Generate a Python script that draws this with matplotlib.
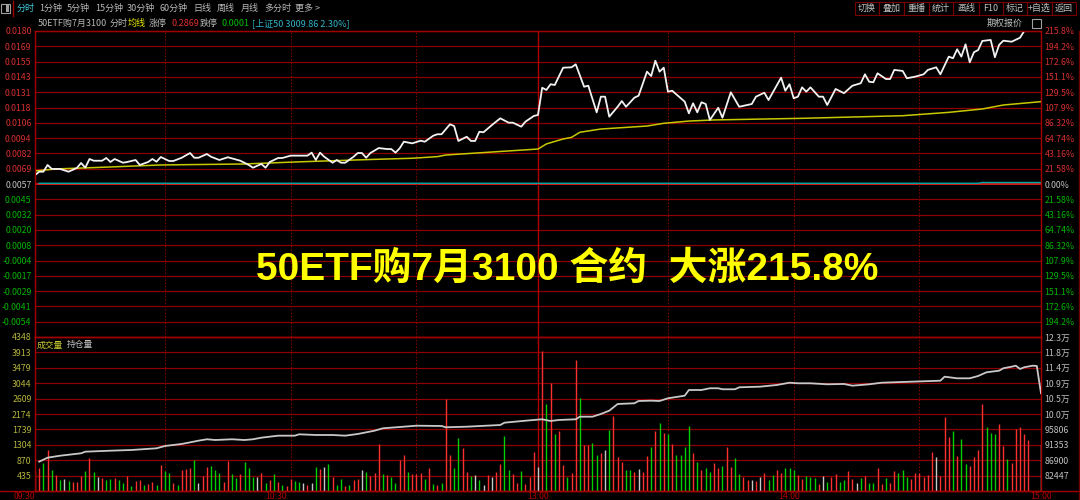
import matplotlib
matplotlib.use("Agg")
import matplotlib.pyplot as plt
from matplotlib.patches import Rectangle
from matplotlib.lines import Line2D

plt.rcParams['font.family'] = ['Noto Sans CJK SC', 'DejaVu Sans']

# ---------------- data ----------------
contract = "50ETF购7月3100"
limit_up = "0.2869"
limit_down = "0.0001"
index_info = "[上证50 3009.86 2.30%]"
headline = "50ETF购7月3100 合约  大涨215.8%"

prev_close = 0.0057
price_high = 0.0180

price_left_labels = ["-0.0054", "-0.0041", "-0.0029", "-0.0017", "-0.0004", "0.0008",
                     "0.0020", "0.0032", "0.0045", "0.0057", "0.0069", "0.0082", "0.0094",
                     "0.0106", "0.0118", "0.0131", "0.0143", "0.0155", "0.0169", "0.0180"]
price_right_labels = ["194.2%", "172.6%", "151.1%", "129.5%", "107.9%", "86.32%", "64.74%",
                      "43.16%", "21.58%", "0.00%", "21.58%", "43.16%", "64.74%", "86.32%",
                      "107.9%", "129.5%", "151.1%", "172.6%", "194.2%", "215.8%"]

vol_max = 4348
vol_labels = ["435", "870", "1304", "1739", "2174", "2609", "3044", "3479", "3913", "4348"]
oi_axis_min = 77994
oi_axis_max = 122524
oi_labels = ["82447", "86900", "91353", "95806", "10.0万", "10.5万", "10.9万", "11.4万",
             "11.8万", "12.3万"]

time_labels = ["09:30", "10:30", "13:00", "14:00", "15:00"]
time_label_minutes = [0, 60, 120, 180, 240]

# (minute since 09:30, price)
price_points = [
    (0, 0.00642), (1, 0.00669), (2, 0.00669), (3, 0.00723), (4, 0.00691), (6, 0.00691),
    (8, 0.00669), (10, 0.00699), (11, 0.00739), (12, 0.00701), (13, 0.00771), (14, 0.00757),
    (16, 0.00757), (17, 0.00779), (18, 0.00747), (19, 0.00771), (21, 0.00741), (22, 0.00747),
    (24, 0.00763), (25, 0.00723), (27, 0.00747), (28, 0.00771), (29, 0.00749), (30, 0.00787),
    (32, 0.00755), (33, 0.00755), (35, 0.00781), (37, 0.00819), (38, 0.00781), (39, 0.00781),
    (41, 0.00811), (42, 0.00789), (44, 0.00763), (46, 0.00785), (49, 0.00757), (51, 0.00723),
    (52, 0.00701), (54, 0.00731), (55, 0.00701), (56, 0.00747), (58, 0.00779), (59, 0.00779),
    (61, 0.00798), (63, 0.00798), (65, 0.00798), (66, 0.00822), (67, 0.00763), (68, 0.00822),
    (69, 0.00789), (71, 0.00741), (72, 0.00763), (73, 0.00741), (74, 0.00741), (76, 0.00789),
    (77, 0.00819), (78, 0.00819), (79, 0.00781), (80, 0.00819), (82, 0.00859), (84, 0.00851),
    (85, 0.00851), (86, 0.00822), (87, 0.00857), (88, 0.00910), (90, 0.00897), (92, 0.00918),
    (93, 0.00910), (95, 0.00958), (96, 0.00970), (97, 0.00970), (99, 0.01050), (100, 0.01036),
    (101, 0.00916), (103, 0.00950), (104, 0.00916), (105, 0.00916), (106, 0.00990),
    (107, 0.00986), (109, 0.01044), (111, 0.01098), (113, 0.01063), (114, 0.01063),
    (116, 0.01031), (117, 0.01071), (119, 0.01117), (120, 0.01125),
    (121, 0.01344), (122, 0.01326), (123, 0.01372), (124, 0.01366), (126, 0.01505),
    (128, 0.01508), (129, 0.01532), (131, 0.01352), (132, 0.01360), (134, 0.01146),
    (135, 0.01272), (136, 0.01272), (137, 0.01111), (139, 0.01191), (140, 0.01237),
    (141, 0.01191), (143, 0.01264), (144, 0.01280), (146, 0.01473), (147, 0.01438),
    (148, 0.01561), (149, 0.01473), (150, 0.01505), (151, 0.01312), (152, 0.01320),
    (155, 0.01232), (156, 0.01138), (157, 0.01219), (158, 0.01146), (159, 0.01227),
    (160, 0.01213), (161, 0.01085), (163, 0.01183), (164, 0.01103), (166, 0.01307),
    (168, 0.01191), (171, 0.01213), (172, 0.01272), (174, 0.01304), (175, 0.01245),
    (178, 0.01425), (179, 0.01320), (180, 0.01372), (181, 0.01259), (182, 0.01272),
    (183, 0.01347), (184, 0.01312), (185, 0.01347), (187, 0.01272), (188, 0.01272),
    (189, 0.01205), (191, 0.01334), (193, 0.01300), (195, 0.01360), (197, 0.01380),
    (198, 0.01452), (199, 0.01392), (200, 0.01388), (201, 0.01460), (203, 0.01414),
    (204, 0.01414), (205, 0.01487), (207, 0.01479), (208, 0.01420), (210, 0.01433),
    (212, 0.01452), (213, 0.01487), (215, 0.01508), (216, 0.01452), (218, 0.01594),
    (219, 0.01581), (220, 0.01653), (221, 0.01594), (222, 0.01693), (223, 0.01548),
    (224, 0.01629), (225, 0.01647), (226, 0.01720), (228, 0.01728), (229, 0.01589),
    (230, 0.01688), (231, 0.01722), (233, 0.01714), (235, 0.01746), (236, 0.01800),
    (240, 0.01800),
]

# average price line (均线)
avg_points = [
    (0, 0.00675), (5, 0.00691), (15, 0.00703), (30, 0.00723), (50, 0.00731), (62, 0.00747),
    (80, 0.00767), (90, 0.00777), (96, 0.00790), (98, 0.00803), (108, 0.00825),
    (120, 0.00851), (122, 0.00892), (126, 0.00932), (128, 0.00945), (130, 0.00986),
    (135, 0.01012), (146, 0.01036), (150, 0.01058), (156, 0.01076), (162, 0.01085),
    (183, 0.01098), (207, 0.01119), (218, 0.01146), (226, 0.01173), (231, 0.01205),
    (240, 0.01232),
]

# underlying index overlay (near the zero line)
index_points = [(1, 0.00576), (225, 0.00576), (226, 0.00582), (240, 0.00582)]

# per-minute volume (09:30 .. 15:00, 241 minutes)
volume = [
    560, 660, 780, 1160, 590, 450, 310, 330, 290, 260,
    260, 420, 570, 940, 545, 390, 380, 310, 330, 380,
    310, 230, 420, 150, 290, 310, 180, 200, 260, 170,
    730, 565, 520, 230, 160, 590, 610, 660, 875, 230,
    420, 670, 700, 590, 500, 260, 855, 480, 380, 480,
    830, 640, 400, 400, 520, 230, 310, 470, 260, 180,
    150, 330, 290, 260, 220, 160, 230, 690, 610, 690,
    760, 400, 170, 330, 150, 180, 310, 330, 590, 530,
    420, 500, 1330, 470, 450, 390, 220, 875, 1020, 545,
    470, 470, 520, 330, 660, 200, 160, 220, 2590, 1020,
    640, 1490, 1200, 545, 420, 450, 310, 180, 450, 400,
    545, 760, 1550, 590, 470, 230, 565, 200, 400, 1110,
    670, 3960, 2460, 3060, 1610, 1700, 730, 400, 500, 3700,
    2630, 1300, 1300, 1360, 1020, 1060, 1160, 1720, 2120, 970,
    830, 590, 590, 545, 610, 530, 990, 1250, 1690, 1910,
    1630, 1600, 1330, 1020, 1020, 1230, 1840, 1060, 830, 590,
    660, 545, 800, 640, 710, 1250, 690, 920, 470, 400,
    310, 310, 290, 390, 520, 310, 450, 590, 500, 660,
    640, 590, 450, 330, 420, 400, 380, 200, 420, 260,
    390, 470, 250, 310, 565, 330, 230, 360, 420, 230,
    230, 640, 200, 360, 230, 565, 500, 590, 400, 330,
    520, 520, 400, 450, 1110, 970, 420, 2080, 1530, 1700,
    990, 1460, 760, 710, 970, 1160, 2460, 1800, 1650, 1610,
    1890, 1270, 900, 780, 1740, 1800, 1610, 1440, 0, 0, 1300,
]
# r = up, g = down, w = unchanged
direction = (
    "rrgrgrgwgr" "rrgrgwrggr" "ggrgrrgrrg" "rggrgrrrgw" "rrgggrrggr"
    "gggwrgrgrg" "rrggwrwgrw" "grggrgrrwg" "rrrgrggrrg" "rrrgrgrgrr"
    "ggrrgwgwrw" "rrggrrgrrr" "wrgrgrrgrr" "grrggrwgrr" "rggrwrrgrg"
    "rgrggggrgr" "ggrrgrrggr" "rwrwrggrrg" "ggrrgggrwg" "rrggrrwgrg"
    "grrgrrgggr" "rrrrrwrrrg" "rggrrrrggg" "rrgrrrrrwww"
)

# open interest (持仓量)
oi_points = [
    (1, 86470), (3, 87630), (6, 88200), (11, 88900), (12, 89360), (18, 89650), (23, 89850),
    (29, 90340), (31, 91010), (35, 91590), (39, 92540), (41, 92950), (43, 92740),
    (47, 92950), (50, 92740), (52, 92950), (54, 93410), (58, 93990), (62, 93990),
    (63, 94390), (67, 94190), (71, 94190), (74, 93990), (77, 94480), (81, 95430),
    (83, 96130), (88, 96590), (91, 96880), (97, 96790), (98, 96420), (103, 96590),
    (111, 97080), (112, 97750), (117, 98320), (121, 98730), (123, 98240), (125, 98530),
    (129, 98730), (130, 99480), (133, 99480), (135, 100260), (137, 101220), (139, 103150),
    (143, 103360), (144, 104020), (147, 104110), (149, 104020), (151, 104800),
    (155, 105560), (156, 107200), (159, 107200), (161, 107700), (163, 107700),
    (164, 107410), (167, 107410), (168, 107980), (173, 108160), (177, 108650),
    (180, 109310), (182, 109140), (185, 109140), (189, 108850), (193, 108940),
    (195, 108450), (199, 108850), (202, 109310), (209, 109600), (212, 109720),
    (216, 109890), (217, 111050), (220, 110580), (223, 110580), (225, 111250),
    (227, 112320), (230, 112780), (231, 113480), (233, 113940), (234, 114230),
    (235, 113280), (236, 113770), (238, 114230), (239, 114140), (240, 106250),
]

tabs = ["分时", "1分钟", "5分钟", "15分钟", "30分钟", "60分钟", "日线", "周线", "月线", "多分时", "更多 >"]
buttons = ["切换", "叠加", "重播", "统计", "画线", "F10", "标记", "+自选", "返回"]

# ---------------- style ----------------
BG = "black"
GRID = "#8c0000"
AXRED = "#a00000"
CENTER = "#d01818"
UPC = "#d83030"
DNC = "#00b400"
GREY = "#c0c0c0"
YEL = "#c8c800"
VOLC = {"r": "#ff3030", "g": "#00d000", "w": "#c8c8c8"}

W, H = 1080.0, 500.0


def fbox(x0, y0, x1, y1):
    return [x0 / W, 1 - y1 / H, (x1 - x0) / W, (y1 - y0) / H]


def fp(x, y):
    return x / W, 1 - y / H


fig = plt.figure(figsize=(10.8, 5.0), dpi=100, facecolor=BG)

PL, PR = 35, 1041
ax_p = fig.add_axes(fbox(PL, 31, PR, 337))
ax_v = fig.add_axes(fbox(PL, 337, PR, 491))

step = (price_high - prev_close) / 10
ks = list(range(-9, 11))
pticks = [prev_close + k * step for k in ks]

for ax in (ax_p, ax_v):
    ax.set_facecolor(BG)
    ax.set_xlim(0, 240)
    for s in ax.spines.values():
        s.set_color(AXRED)
        s.set_linewidth(1.0)
    ax.tick_params(length=0)

ax_p.set_ylim(prev_close - 10 * step, prev_close + 10 * step)
for k, t in zip(ks, pticks):
    if k == 0:
        ax_p.axhline(t, color=CENTER, lw=1.4, zorder=1)
    else:
        ax_p.axhline(t, color=GRID, lw=0.9, zorder=1)

vstep = vol_max / 10
vticks = [vstep * i for i in range(1, 11)]
ax_v.set_ylim(0, vol_max)
for t in vticks:
    ax_v.axhline(t, color=GRID, lw=0.9, zorder=1)

for ax in (ax_p, ax_v):
    for m in (30, 60, 90, 150, 180, 210):
        ax.axvline(m + 1, color="#780000", lw=0.8, ls=(0, (1.5, 1.5)), zorder=1)
    ax.axvline(120, color="#b00000", lw=1.0, zorder=1)

# price panel lines
ax_p.plot([p[0] for p in index_points], [p[1] for p in index_points],
          color="#00a8a8", lw=1.0, zorder=3)
ax_p.plot([p[0] for p in avg_points], [p[1] for p in avg_points],
          color=YEL, lw=1.1, zorder=4)
ax_p.plot([p[0] for p in price_points], [p[1] for p in price_points],
          color="#f2f2f2", lw=1.3, zorder=5)

# volume bars
ax_v.vlines(range(len(volume)), 0, volume, colors=[VOLC[d] for d in direction],
            lw=1.0, zorder=3)

# open interest
ax_o = ax_v.twinx()
ax_o.set_ylim(oi_axis_min, oi_axis_max)
ax_o.plot([p[0] for p in oi_points], [p[1] for p in oi_points], color="#c8c8c8",
          lw=1.3, zorder=5)
for s in ax_o.spines.values():
    s.set_color(AXRED)
ax_o.tick_params(length=0, pad=2.5)
oi_step = (oi_axis_max - oi_axis_min) / 10
ax_o.set_yticks([oi_axis_min + oi_step * i for i in range(1, 11)])
ax_o.set_yticklabels(oi_labels, fontsize=6.3, color=GREY)

# price tick labels
FS = 6.3
ax_p.set_xticks([])
ax_p.set_yticks(pticks)
ax_p.set_yticklabels(price_left_labels, fontsize=FS)
ax_p.tick_params(axis="y", pad=2.5)
for k, lab in zip(ks, ax_p.get_yticklabels()):
    lab.set_color(UPC if k > 0 else (GREY if k == 0 else DNC))

ax_pr = ax_p.twinx()
ax_pr.set_ylim(ax_p.get_ylim())
ax_pr.set_yticks(pticks)
ax_pr.set_yticklabels(price_right_labels, fontsize=FS)
ax_pr.tick_params(length=0, pad=2.5)
for s in ax_pr.spines.values():
    s.set_color(AXRED)
for k, lab in zip(ks, ax_pr.get_yticklabels()):
    lab.set_color(UPC if k > 0 else (GREY if k == 0 else DNC))

ax_v.set_yticks(vticks)
ax_v.set_yticklabels(vol_labels, fontsize=FS, color="#b4b43c")
ax_v.tick_params(axis="y", pad=2.5)
ax_v.set_xticks(time_label_minutes)
ax_v.set_xticklabels(time_labels, fontsize=FS, color="#b40000")
ax_v.tick_params(axis="x", pad=0.5)
for lab, ha in zip(ax_v.get_xticklabels(), ["right", "right", "center", "center", "center"]):
    lab.set_ha(ha)

# frame lines
fig.add_artist(Line2D([0, 1], [fp(0, 491)[1]] * 2, color=AXRED, lw=1.0))
fig.add_artist(Line2D([1079 / W] * 2, [fp(0, 31)[1], fp(0, 500)[1]], color="#700000", lw=1.0))

# panel captions
fig.text(*fp(37, 345), "成交量", fontsize=FS, color="#c8c832", va="center")
fig.text(*fp(67, 345), "持仓量", fontsize=FS, color=GREY, va="center")

# ---------------- top bars ----------------
fig.add_artist(Rectangle(fp(1, 13), 9 / W, 9 / H, fill=False, ec="#a0a0a0", lw=0.8))
fig.add_artist(Rectangle(fp(6, 12), 3 / W, 7 / H, fc="#a0a0a0", ec="none"))
fig.add_artist(Line2D([13 / W] * 2, [fp(0, 1)[1], fp(0, 16)[1]], color=AXRED, lw=1.0))
tab_x = [17, 39, 67, 95, 127, 159, 193, 217, 241, 264, 295]
for i, (tx, t) in enumerate(zip(tab_x, tabs)):
    fig.text(*fp(tx, 8.5), t, fontsize=6.5, color="#40c8d8" if i == 0 else "#b8b8b8",
             va="center")

btn_edges = [855, 879, 904, 929, 953, 979, 1003, 1027, 1052, 1076]
for b, x0, x1 in zip(buttons, btn_edges[:-1], btn_edges[1:]):
    fig.add_artist(Rectangle(fp(x0, 15), (x1 - x0) / W, 13 / H, fill=False, ec="#7a0000",
                             lw=0.8))
    fig.text(*fp((x0 + x1) / 2, 8.5), b, fontsize=6.5, color="#c0c0c0", ha="center",
             va="center")

row2 = [(38, contract, "#b8b8b8"), (110, "分时", "#b8b8b8"), (128, "均线", "#e6e600"),
        (149, "涨停", "#b8b8b8"), (172, limit_up, "#e03030"), (200, "跌停", "#b8b8b8"),
        (222, limit_down, "#00c000"), (252, index_info, "#30b4c8")]
for x, t, c in row2:
    fig.text(*fp(x, 23), t, fontsize=6.5, color=c, va="center")
fig.text(*fp(987, 23), "期权报价", fontsize=6.5, color="#c0c0c0", va="center")
fig.add_artist(Rectangle(fp(1032, 28), 9 / W, 9 / H, fill=False, ec="#a0a0a0", lw=0.8))

# headline
fig.text(*fp(567, 270), headline, fontsize=28, fontweight="bold", color="#ffff00",
         ha="center", va="center",
         family=["Liberation Sans", "Noto Sans CJK SC", "DejaVu Sans"])

fig.savefig("out.png", dpi=100, facecolor=BG)
